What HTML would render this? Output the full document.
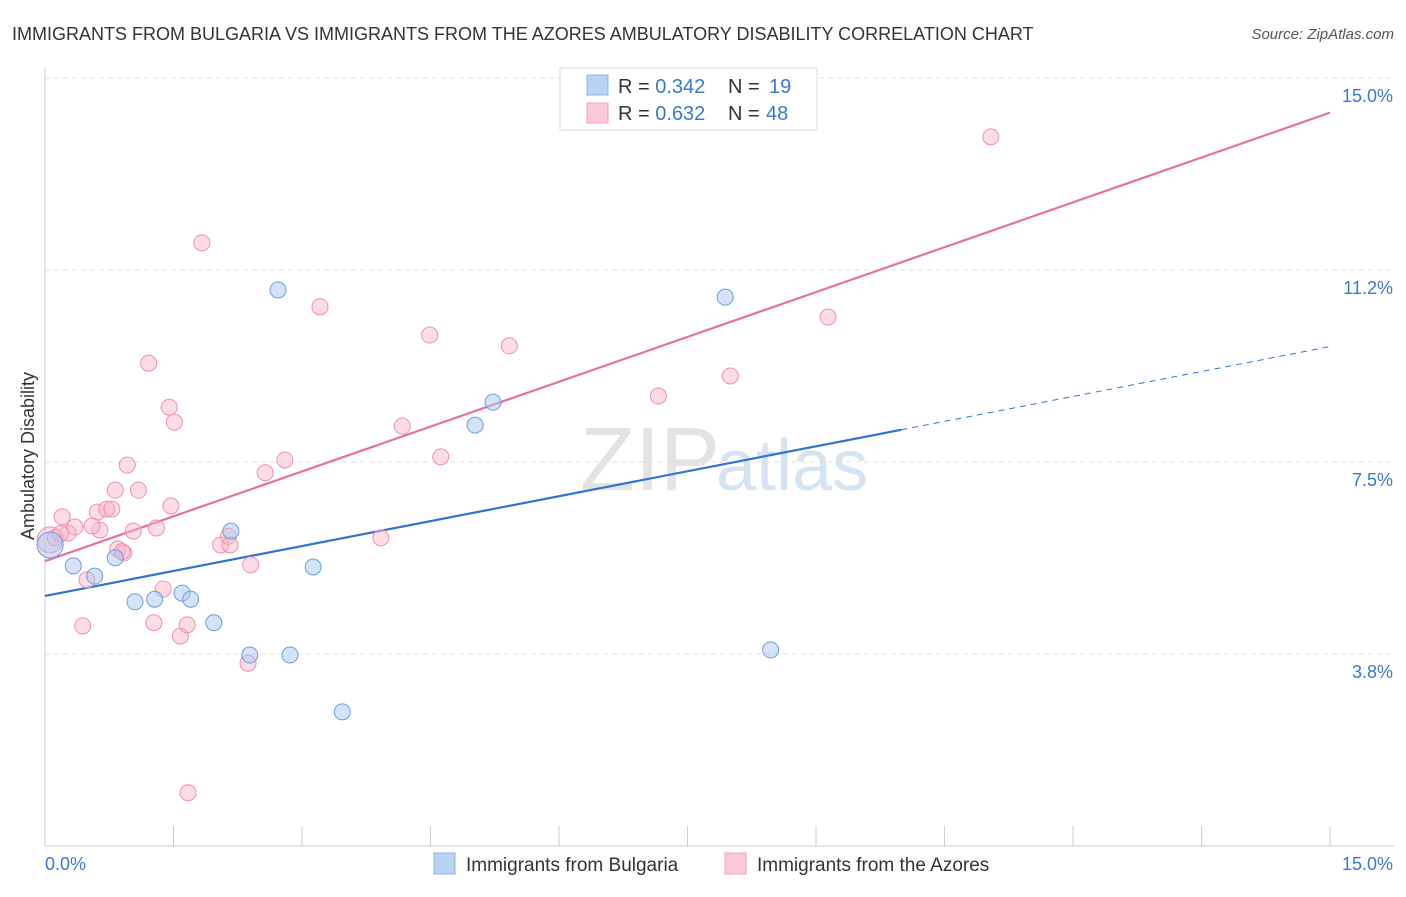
<!DOCTYPE html>
<html><head><meta charset="utf-8"><style>
body{margin:0;background:#fff;font-family:"Liberation Sans",sans-serif;}
svg text{font-family:"Liberation Sans",sans-serif;}
</style></head><body>
<svg id="c" width="1406" height="892" xmlns="http://www.w3.org/2000/svg">
<text x="12" y="40" font-size="18" fill="#333">IMMIGRANTS FROM BULGARIA VS IMMIGRANTS FROM THE AZORES AMBULATORY DISABILITY CORRELATION CHART</text>
<text x="1394" y="39" font-size="15" fill="#555" text-anchor="end" font-style="italic">Source: ZipAtlas.com</text>
<text x="720" y="490" font-size="90" fill="#e3e3e3" text-anchor="end" font-family="Liberation Serif">ZIP</text>
<text x="716" y="490" font-size="72" fill="#d5e3f3">atlas</text>
<text transform="translate(34,456) rotate(-90)" font-size="18" fill="#333" text-anchor="middle">Ambulatory Disability</text>
<g id="grid"></g><g id="axes"></g><g id="lines"></g><g id="pts"></g>
<g>
<rect x="560" y="68" width="257" height="62" fill="#fff" stroke="#ddd"/>
<rect x="587" y="75" width="21" height="20" fill="#b9d3f5" stroke="#8db3e8"/>
<rect x="587" y="103" width="21" height="20" fill="#fbc9d8" stroke="#f2a3bc"/>
<text x="618" y="93" font-size="20" fill="#333">R = <tspan fill="#3a78d0">0.342</tspan><tspan x="728">N = </tspan><tspan x="769" fill="#3a78d0">19</tspan></text>
<text x="618" y="120" font-size="20" fill="#333">R = <tspan fill="#3a78d0">0.632</tspan><tspan x="728">N = </tspan><tspan x="766" fill="#3a78d0">48</tspan></text>
</g>
<g>
<rect x="434" y="853" width="21" height="21" fill="#b9d3f5" stroke="#8db3e8"/>
<text x="466" y="871" font-size="19" fill="#333">Immigrants from Bulgaria</text>
<rect x="725" y="853" width="21" height="21" fill="#fbc9d8" stroke="#f2a3bc"/>
<text x="757" y="871" font-size="19" fill="#333">Immigrants from the Azores</text>
</g>
</svg>
<script>
const blueX=[0.06,0.33,0.58,0.82,1.05,1.28,1.60,1.70,1.97,2.17,2.39,2.72,2.86,3.13,3.47,5.02,5.23,7.94,8.47];
const blueY=[5.88,5.47,5.27,5.63,4.77,4.82,4.94,4.82,4.36,6.15,3.73,10.86,3.73,5.45,2.62,8.22,8.67,10.72,3.83];
const pinkX=[0.06,0.12,0.20,0.27,0.35,0.44,0.49,0.61,0.64,0.72,0.78,0.82,0.85,0.92,0.96,1.03,1.09,1.21,1.27,1.30,1.38,1.45,1.47,1.51,1.58,1.66,1.67,1.83,2.05,2.14,2.16,2.40,2.37,2.57,2.80,3.21,3.92,4.17,4.49,4.62,5.42,7.16,8.00,9.14,11.04,0.18,0.55,0.90];
const pinkY=[5.98,6.02,6.43,6.11,6.23,4.30,5.20,6.52,6.17,6.58,6.58,6.95,5.80,5.72,7.44,6.15,6.95,9.43,4.36,6.21,5.02,8.57,6.64,8.28,4.10,4.32,1.04,11.78,5.88,6.05,5.88,5.49,3.57,7.29,7.54,10.53,6.02,8.20,9.98,7.60,9.77,8.79,9.18,10.33,13.85,6.10,6.25,5.75];
const yTicks=[3.75,7.5,11.25,15];
const yTickLabels=["3.8%","7.5%","11.2%","15.0%"];
const xTicks=[0,1.5,3,4.5,6,7.5,9,10.5,12,13.5,15];
const NS="http://www.w3.org/2000/svg";
const sx=v=>45+v*85.67, sy=v=>846-v*51.2;
function mk(t,a,p){const e=document.createElementNS(NS,t);for(const k in a)e.setAttribute(k,a[k]);p.appendChild(e);return e;}
const grid=document.getElementById('grid'),axes=document.getElementById('axes'),lines=document.getElementById('lines'),pts=document.getElementById('pts');
yTicks.forEach((v,i)=>{
 const l=mk('line',{x1:45,x2:1394,y1:sy(v),y2:sy(v),stroke:'#e2e2e2','stroke-dasharray':'5,4'},grid);
 
 
 const t=mk('text',{x:1393,y:sy(v)+24,'font-size':18,fill:'#3a78d0','text-anchor':'end'},axes);t.textContent=yTickLabels[i];
 
 
});
const ax=mk('line',{x1:45,x2:45,y1:68,y2:846,stroke:'#ccc'},axes);


const bx=mk('line',{x1:45,x2:1394,y1:846,y2:846,stroke:'#ccc'},axes);


xTicks.forEach(v=>{const t=mk('line',{x1:sx(v),x2:sx(v),y1:826,y2:846,stroke:'#ccc'},axes);
 
 });
const xl=mk('text',{x:45,y:870,'font-size':18,fill:'#3a78d0'},axes);xl.textContent='0.0%';


const xr=mk('text',{x:1393,y:870,'font-size':18,fill:'#3a78d0','text-anchor':'end'},axes);xr.textContent='15.0%';


function fit(X,Y){const n=X.length;let mx=0,my=0;X.forEach((x,i)=>{mx+=x;my+=Y[i];});mx/=n;my/=n;let sxy=0,sxx=0;X.forEach((x,i)=>{sxy+=(x-mx)*(Y[i]-my);sxx+=(x-mx)**2;});const b=sxy/sxx;return [my-b*mx,b];}
const [ba,bb]=fit(blueX,blueY),[pa,pb]=fit(pinkX,pinkY);
const bmax=Math.max(...blueX)*1.18;
let e=mk('line',{x1:sx(0),y1:sy(ba),x2:sx(bmax),y2:sy(ba+bb*bmax),stroke:'#2f74d0','stroke-width':2.2},lines);


e=mk('line',{x1:sx(bmax),y1:sy(ba+bb*bmax),x2:sx(14.98),y2:sy(ba+bb*14.98),stroke:'#2f74d0','stroke-width':1,'stroke-dasharray':'6,5'},lines);


e=mk('line',{x1:sx(0),y1:sy(pa),x2:sx(15),y2:sy(pa+pb*15),stroke:'#e8719a','stroke-width':2.2},lines);


pinkX.forEach((x,i)=>{const c=mk('circle',{cx:sx(x),cy:sy(pinkY[i]),r:i==0?13:8,fill:'rgba(248,180,200,0.45)',stroke:'#f08fb0','stroke-width':1},pts);
 
 });
blueX.forEach((x,i)=>{const c=mk('circle',{cx:sx(x),cy:sy(blueY[i]),r:i==0?13:8,fill:'rgba(170,200,240,0.5)',stroke:'#6d9de0','stroke-width':1},pts);
 
 });
</script>
</body></html>
